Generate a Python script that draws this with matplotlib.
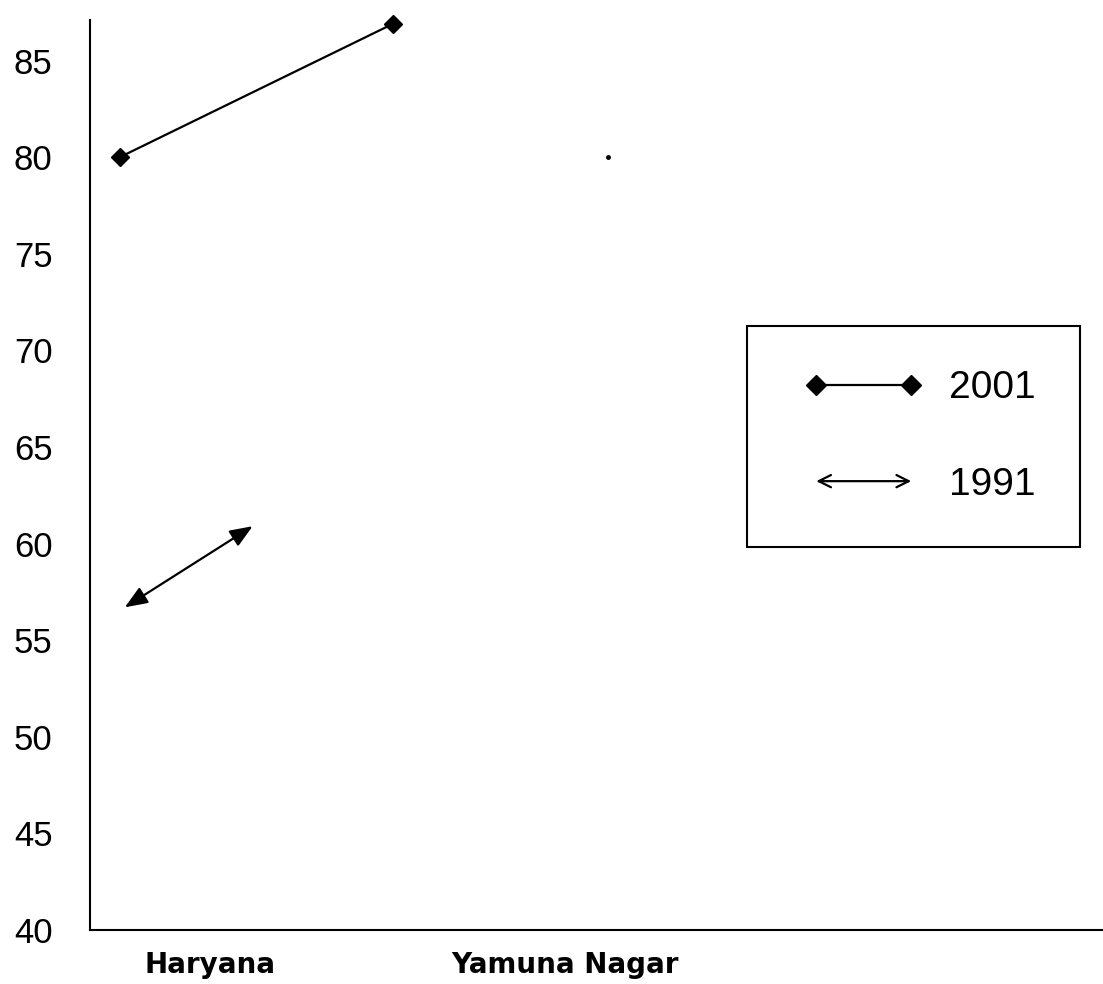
import matplotlib.pyplot as plt
from matplotlib.patches import FancyArrowPatch
from matplotlib.lines import Line2D
from matplotlib.legend_handler import HandlerBase

# categories on the x axis
districts = ['Haryana', 'Yamuna Nagar']
# 2001 series, as drawn (x in category units)
x_2001 = [-0.254, 0.515]
y_2001 = [80.0, 86.9]
# stray point near Yamuna Nagar
x_dot = [1.12]
y_dot = [80.0]
# 1991 series, drawn as a two-headed arrow
x_1991 = [-0.24, 0.12]
y_1991 = [56.7, 60.9]
yticks = [40, 45, 50, 55, 60, 65, 70, 75, 80, 85]


# legend handles: drawn part starts a bit in from the left of the handle box
class LineHandler(HandlerBase):
    def create_artists(self, legend, orig_handle, xdescent, ydescent,
                       width, height, fontsize, trans):
        y = height / 2 - ydescent
        x0 = -xdescent + 0.62 * fontsize
        x1 = width - xdescent - 0.3 * fontsize
        ln = Line2D([x0, x1], [y, y], color='black', lw=1.6, marker='D',
                    markersize=10, transform=trans)
        return [ln]


class ArrowHandler(HandlerBase):
    def create_artists(self, legend, orig_handle, xdescent, ydescent,
                       width, height, fontsize, trans):
        y = height / 2 - ydescent
        x0 = -xdescent + 0.62 * fontsize
        x1 = width - xdescent - 0.3 * fontsize
        p = FancyArrowPatch((x0, y), (x1, y), arrowstyle='<->',
                            mutation_scale=22, shrinkA=0, shrinkB=0,
                            lw=1.6, color='black', transform=trans)
        return [p]


plt.rcParams['font.family'] = ['Liberation Sans', 'DejaVu Sans']

fig = plt.figure(figsize=(11.03, 9.84), dpi=100)
ax = fig.add_axes([90 / 1103, 54 / 984, 1013 / 1103, 910 / 984])

line, = ax.plot(x_2001, y_2001, color='black', lw=1.6, marker='D',
                markersize=9, label='2001', clip_on=False)
ax.plot(x_dot, y_dot, 'o', color='black', markersize=2.5)

arrow = FancyArrowPatch((x_1991[0], y_1991[0]), (x_1991[1], y_1991[1]),
                        arrowstyle='<|-|>,head_length=0.55,head_width=0.22',
                        mutation_scale=25, shrinkA=0, shrinkB=0, lw=1.6,
                        color='black', label='1991')
ax.add_patch(arrow)

ax.set_xlim(-0.338, 2.515)
ax.set_ylim(40, 87.1)
ax.set_yticks(yticks)
ax.set_xticks(range(len(districts)))
ax.set_xticklabels(districts, fontsize=20, fontweight='bold',
                   family='DejaVu Sans')
ax.tick_params(axis='both', length=0)
ax.tick_params(axis='y', labelsize=25, pad=27)
ax.tick_params(axis='x', pad=15)
for s in ['top', 'right']:
    ax.spines[s].set_visible(False)
for s in ['left', 'bottom']:
    ax.spines[s].set_linewidth(1.5)

leg = ax.legend(handles=[line, arrow], labels=['2001', '1991'],
                handler_map={Line2D: LineHandler(),
                             FancyArrowPatch: ArrowHandler()},
                loc='upper left', bbox_to_anchor=(0.649, 0.664),
                fontsize=28, frameon=True, fancybox=False, framealpha=1,
                edgecolor='black', handlelength=3.36, handletextpad=0.67,
                labelspacing=1.55, borderpad=1.15, borderaxespad=0)
leg.get_frame().set_linewidth(1.5)

fig.savefig('out.png', dpi=100)
